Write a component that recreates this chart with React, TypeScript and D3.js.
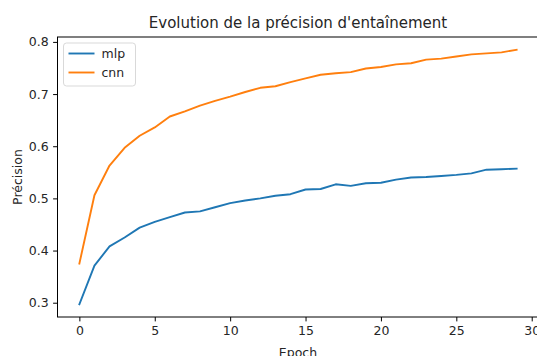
import { useRef, useEffect } from "react";
import * as d3 from "d3";

const epochs = d3.range(0, 30);
const mlp = [
  0.297, 0.371, 0.408, 0.425, 0.444, 0.455, 0.464, 0.473, 0.475, 0.483,
  0.491, 0.496, 0.5, 0.505, 0.508, 0.517, 0.518, 0.527, 0.524, 0.529,
  0.53, 0.536, 0.54, 0.541, 0.543, 0.545, 0.548, 0.555, 0.556, 0.557,
];
const cnn = [
  0.375, 0.506, 0.563, 0.597, 0.62, 0.636, 0.657, 0.667, 0.678, 0.687,
  0.695, 0.704, 0.712, 0.715, 0.723, 0.73, 0.737, 0.74, 0.742, 0.749,
  0.752, 0.757, 0.759, 0.766, 0.768, 0.772, 0.776, 0.778, 0.78, 0.785,
];
const xTicks = [0, 5, 10, 15, 20, 25, 30];
const yTicks = [0.3, 0.4, 0.5, 0.6, 0.7, 0.8];
const seriesNames = ["mlp", "cnn"];
const colors = ["#1f77b4", "#ff7f0e"];

export default function App() {
  const svgRef = useRef<SVGSVGElement>(null);

  useEffect(() => {
    const width = 537;
    const height = 356;
    const margin = { top: 37, right: -1.5, bottom: 39, left: 57.5 };
    const innerW = width - margin.left - margin.right;
    const innerH = height - margin.top - margin.bottom;
    const font = "DejaVu Sans, sans-serif";

    const svg = d3.select(svgRef.current);
    svg.selectAll("*").remove();
    svg.attr("width", width).attr("height", height);

    svg.append("rect").attr("width", width).attr("height", height).attr("fill", "#fff");

    const all = [...mlp, ...cnn];
    const yMin = d3.min(all)!;
    const yMax = d3.max(all)!;
    const yPad = (yMax - yMin) * 0.05;
    const xPad = 29 * 0.05;

    const x = d3.scaleLinear().domain([-xPad, 29 + xPad]).range([0, innerW]);
    const y = d3.scaleLinear().domain([yMin - yPad, yMax + yPad]).range([innerH, 0]);

    const g = svg.append("g").attr("transform", `translate(${margin.left},${margin.top})`);

    // Lines
    const line = d3
      .line<number>()
      .x((_, i) => x(epochs[i]))
      .y((d) => y(d));

    [mlp, cnn].forEach((s, i) => {
      g.append("path")
        .datum(s)
        .attr("d", line)
        .attr("fill", "none")
        .attr("stroke", colors[i])
        .attr("stroke-width", 1.9)
        .attr("stroke-linejoin", "round")
        .attr("stroke-linecap", "square");
    });

    // Frame
    g.append("rect")
      .attr("width", innerW)
      .attr("height", innerH)
      .attr("fill", "none")
      .attr("stroke", "#000")
      .attr("stroke-width", 1);

    // X axis
    const xAxis = g
      .append("g")
      .attr("transform", `translate(0,${innerH})`)
      .call(d3.axisBottom(x).tickValues(xTicks).tickSize(4.4).tickPadding(4.4).tickFormat(d3.format("d")));
    xAxis.select(".domain").remove();
    xAxis.selectAll("line").attr("stroke", "#000");
    xAxis.selectAll("text").attr("font-size", 12.5).attr("font-family", font).attr("fill", "#262626");

    // Y axis
    const yAxis = g
      .append("g")
      .call(d3.axisLeft(y).tickValues(yTicks).tickSize(4.4).tickPadding(4.4).tickFormat(d3.format(".1f")));
    yAxis.select(".domain").remove();
    yAxis.selectAll("line").attr("stroke", "#000");
    yAxis.selectAll("text").attr("font-size", 12.5).attr("font-family", font).attr("fill", "#262626");

    // Title
    svg.append("text")
      .attr("x", margin.left + innerW / 2)
      .attr("y", 28)
      .attr("text-anchor", "middle")
      .attr("font-size", 15)
      .attr("font-family", font)
      .attr("fill", "#262626")
      .text("Evolution de la précision d'entaînement");

    // Axis labels
    svg.append("text")
      .attr("x", margin.left + innerW / 2)
      .attr("y", 357)
      .attr("text-anchor", "middle")
      .attr("font-size", 12.5)
      .attr("font-family", font)
      .attr("fill", "#262626")
      .text("Epoch");

    svg.append("text")
      .attr("transform", `translate(21.5,${margin.top + innerH / 2}) rotate(-90)`)
      .attr("text-anchor", "middle")
      .attr("font-size", 12.5)
      .attr("font-family", font)
      .attr("fill", "#262626")
      .text("Précision");

    // Legend
    const lg = g.append("g").attr("transform", "translate(6,6)");
    lg.append("rect")
      .attr("width", 72)
      .attr("height", 43)
      .attr("rx", 3)
      .attr("fill", "#fff")
      .attr("fill-opacity", 0.8)
      .attr("stroke", "#d9d9d9")
      .attr("stroke-width", 1);
    seriesNames.forEach((name, i) => {
      const cy = 10.5 + i * 19;
      lg.append("line")
        .attr("x1", 5)
        .attr("x2", 31)
        .attr("y1", cy)
        .attr("y2", cy)
        .attr("stroke", colors[i])
        .attr("stroke-width", 1.9);
      lg.append("text")
        .attr("x", 38)
        .attr("y", cy)
        .attr("dy", "0.35em")
        .attr("font-size", 12.5)
        .attr("font-family", font)
        .attr("fill", "#262626")
        .text(name);
    });
  }, []);

  return (
    <div style={{ position: "absolute", left: 0, top: 0 }}>
      <svg ref={svgRef} style={{ display: "block" }} />
    </div>
  );
}
